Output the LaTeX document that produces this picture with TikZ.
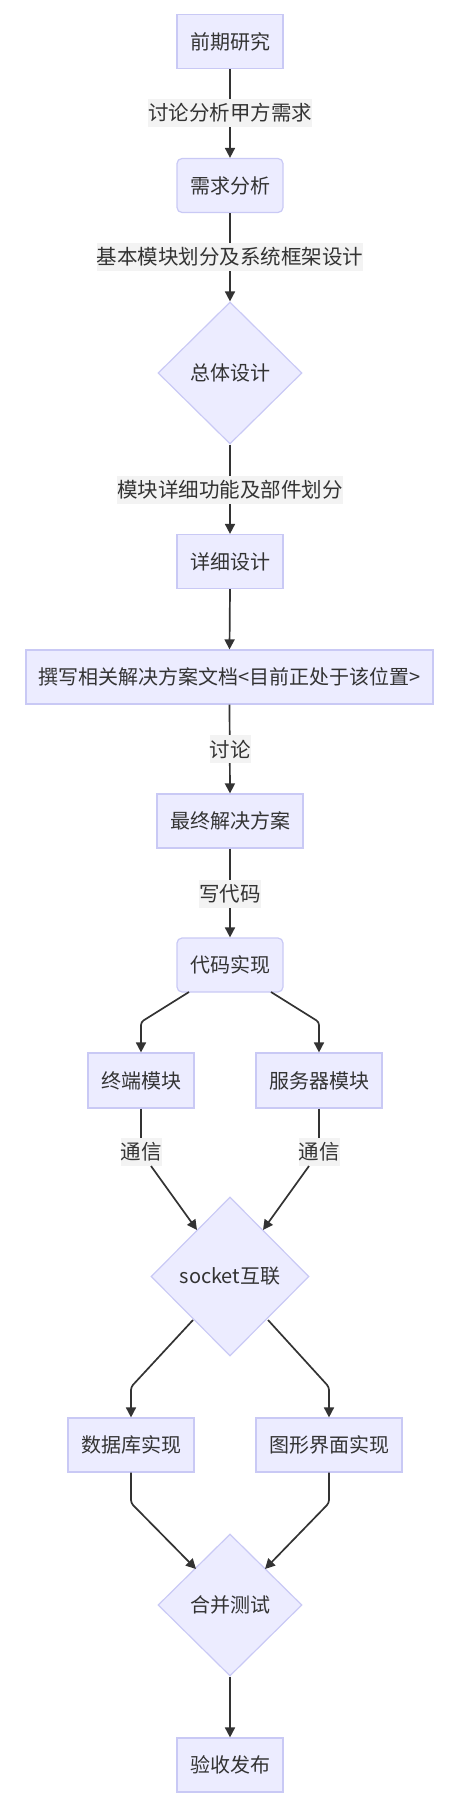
\documentclass[tikz,border=0pt]{standalone}
\usepackage{fontspec}
\setmainfont{Noto Sans CJK SC}
\usetikzlibrary{shapes.geometric,arrows.meta}
\definecolor{nodefill}{HTML}{ECECFF}
\definecolor{nodeline}{HTML}{C9C9F5}
\definecolor{edgecol}{HTML}{333333}
\definecolor{labelbg}{HTML}{F3F3F3}
\definecolor{txt}{HTML}{333333}
\tikzset{
  box/.style={draw=nodeline, fill=nodefill, line width=1.2pt, inner sep=0pt,
    minimum width=106pt, minimum height=54pt, text=txt, font=\fontsize{20}{24}\selectfont},
  rbox/.style={box, rounded corners=5pt},
  dia/.style={diamond, draw=nodeline, fill=nodefill, line width=1.2pt, inner sep=0pt,
    minimum width=144pt, minimum height=142pt, text=txt, font=\fontsize{20}{24}\selectfont},
  elabel/.style={fill=labelbg, inner sep=0pt, minimum height=28pt, text=txt,
    font=\fontsize{20.5}{25}\selectfont},
  edge/.style={draw=edgecol, line width=1.7pt, rounded corners=3pt,
    -{Triangle[length=10pt,width=10pt]}},
  plain/.style={draw=edgecol, line width=1.7pt}
}
\begin{document}
\begin{tikzpicture}[x=1pt,y=-1pt]
\useasboundingbox (0,0) rectangle (453,1811);
% nodes
\node[box] (A) at (230,41.5) {前期研究};
\node[rbox] (B) at (230,185.5) {需求分析};
\node[dia] (C) at (230,373) {总体设计};
\node[box] (D) at (230,561.5) {详细设计};
\node[box, minimum width=407pt] (E) at (229.5,677) {撰写相关解决方案文档<目前正处于该位置>};
\node[box, minimum width=146pt] (F) at (230,821) {最终解决方案};
\node[rbox] (G) at (230,965) {代码实现};
\node[box, minimum height=55pt] (H) at (141,1080.5) {终端模块};
\node[box, minimum width=126pt, minimum height=55pt] (I) at (319,1080.5) {服务器模块};
\node[dia, minimum width=158pt, minimum height=159pt] (J) at (230,1276.5) {socket互联};
\node[box, minimum width=126pt] (K) at (131,1445) {数据库实现};
\node[box, minimum width=146pt] (L) at (329,1445) {图形界面实现};
\node[dia] (M) at (230,1605) {合并测试};
\node[box] (N) at (230,1765) {验收发布};
% coordinates
\coordinate (gh1) at (189,992);
\coordinate (gh2) at (141,1022);
\coordinate (gi1) at (271,992);
\coordinate (gi2) at (319,1022);
\coordinate (hj0) at (151,1166);
\coordinate (ij0) at (309,1166);
\coordinate (hj) at (197,1230);
\coordinate (ij) at (263,1230);
\coordinate (jk1) at (193,1320);
\coordinate (jk2) at (131,1387);
\coordinate (jl1) at (268,1320);
\coordinate (jl2) at (329,1387);
\coordinate (km1) at (131,1503);
\coordinate (km2) at (196,1569);
\coordinate (lm1) at (329,1503);
\coordinate (lm2) at (265,1569);
% edges
\draw[edge] (A.south) -- (B.north);
\draw[edge] (B.south) -- (C.north);
\draw[edge] (C.south) -- (D.north);
\draw[edge] (D.south) -- (E.north);
\draw[edge] (E.south) -- (F.north);
\draw[edge] (F.south) -- (G.north);
\draw[edge] (gh1) -- (gh2) -- (H.north);
\draw[edge] (gi1) -- (gi2) -- (I.north);
\node[elabel, minimum width=40pt] (lh) at (141,1152) {通信};
\node[elabel, minimum width=40pt] (li) at (319,1152) {通信};
\draw[plain] (H.south) -- (lh.north);
\draw[plain] (I.south) -- (li.north);
\draw[edge] (hj0) -- (hj);
\draw[edge] (ij0) -- (ij);
\draw[edge] (jk1) -- (jk2) -- (K.north);
\draw[edge] (jl1) -- (jl2) -- (L.north);
\draw[edge] (K.south) -- (km1) -- (km2);
\draw[edge] (L.south) -- (lm1) -- (lm2);
\draw[edge] (M.south) -- (N.north);
% edge labels
\node[elabel, minimum width=160pt] (l1) at (230,113) {讨论分析甲方需求};
\node[elabel, minimum width=260pt] (l2) at (230,257) {基本模块划分及系统框架设计};
\node[elabel, minimum width=220pt] (l3) at (230,490) {模块详细功能及部件划分};
\node[elabel, minimum width=40pt] (l4) at (230,749) {讨论};
\node[elabel, minimum width=60pt] (l5) at (230,893.5) {写代码};
\end{tikzpicture}
\end{document}
